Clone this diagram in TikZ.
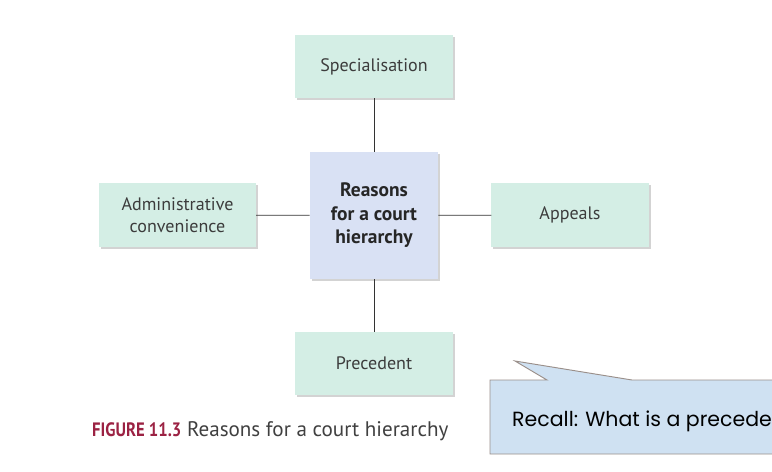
\documentclass[tikz,border=0pt]{standalone}
\usepackage{fontspec}
\setmainfont{PT Sans}
\newfontfamily\recallfont{Poppins}
\usetikzlibrary{shadows}
\definecolor{mint}{HTML}{D4EEE5}
\definecolor{lavender}{HTML}{D9E1F4}
\definecolor{recallblue}{HTML}{CFE1F2}
\definecolor{recallline}{HTML}{9A8F8A}
\definecolor{figred}{HTML}{9B2243}
\definecolor{boxtext}{HTML}{3C3C3C}
\begin{document}
\begin{tikzpicture}[x=0.03cm,y=-0.03cm,
  boxshadow/.style={drop shadow={shadow xshift=0.06cm,shadow yshift=-0.06cm,opacity=0.35}},
  reason/.style={boxshadow,fill=mint,minimum width=4.71cm,minimum height=1.9cm,align=center,text=boxtext,font=\fontsize{15.4}{19}\selectfont},
  hub/.style={boxshadow,fill=lavender,minimum width=3.85cm,minimum height=3.8cm,align=center,text=black!85,font=\bfseries\fontsize{16.6}{20}\selectfont},
  link/.style={draw=black!80,line width=0.7pt}]
\useasboundingbox (0,0) rectangle (772,472);
\clip (0,0) rectangle (772,472);
\node[hub] (hub) at (374,215.5) {Reasons\\for a court\\hierarchy};
\node[reason] (spec) at (374,66.5) {Specialisation};
\node[reason] (admin) at (177.5,215) {Administrative\\convenience};
\node[reason] (appeals) at (570,215) {Appeals};
\node[reason] (prec) at (374,363.5) {Precedent};
\draw[link] (spec) -- (hub);
\draw[link] (admin) -- (hub);
\draw[link] (appeals) -- (hub);
\draw[link] (prec) -- (hub);
\node[anchor=base west,inner sep=0,text=black!75,font=\fontsize{18}{21}\selectfont] (caption) at (92,436)
  {\textcolor{figred}{\bfseries\scalebox{0.79}[0.92]{FIGURE 11.3}} Reasons for a court hierarchy};
\draw[fill=recallblue,draw=recallline,line width=0.8pt] (515,361) -- (632,380) -- (800,380) -- (800,454)
  -- (490,454) -- (490,380) -- (547,380) -- cycle;
\node[anchor=base west,inner sep=0,text=black,font=\recallfont\fontsize{17.5}{21}\selectfont] (recall) at (512,426)
  {Recall: What is a precedent?};
\end{tikzpicture}
\end{document}
